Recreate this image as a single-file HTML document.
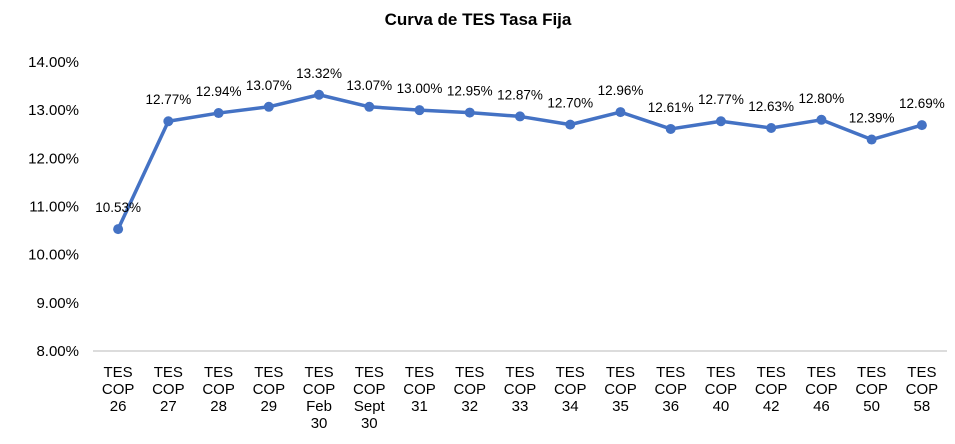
<!DOCTYPE html>
<html><head><meta charset="utf-8"><style>
body{margin:0;background:#fff;font-family:"Liberation Sans",sans-serif}
</style></head><body>
<svg id="c" width="955" height="439" xmlns="http://www.w3.org/2000/svg">
<text x="478" y="25" text-anchor="middle" font-size="17" font-weight="bold" fill="#000">Curva de TES Tasa Fija</text>
<g id="ax"></g><g id="ser"></g>
</svg>
<script>
const categories=[["TES","COP","26"],["TES","COP","27"],["TES","COP","28"],["TES","COP","29"],["TES","COP","Feb","30"],["TES","COP","Sept","30"],["TES","COP","31"],["TES","COP","32"],["TES","COP","33"],["TES","COP","34"],["TES","COP","35"],["TES","COP","36"],["TES","COP","40"],["TES","COP","42"],["TES","COP","46"],["TES","COP","50"],["TES","COP","58"]];
const values=[10.53,12.77,12.94,13.07,13.32,13.07,13.00,12.95,12.87,12.70,12.96,12.61,12.77,12.63,12.80,12.39,12.69];
const yTicks=[8,9,10,11,12,13,14];
const NS="http://www.w3.org/2000/svg";
const L=93,R=947,T=62,B=351,ymin=8,ymax=14;
const step=(R-L)/categories.length;
const x=i=>L+step*(i+0.5);
const y=v=>B-(v-ymin)/(ymax-ymin)*(B-T);
function mk(t,a,p){const e=document.createElementNS(NS,t);for(const k in a)e.setAttribute(k,a[k]);p.appendChild(e);return e;}
const ax=document.getElementById('ax'),ser=document.getElementById('ser');
yTicks.forEach(v=>{const t=mk('text',{x:79,y:y(v)+5,'text-anchor':'end','font-size':15,fill:'#000'},ax);t.textContent=v.toFixed(2)+'%';

});
const al=mk('line',{x1:L,x2:R,y1:B,y2:B,stroke:'#d0d0d0','stroke-width':1.5},ax);


categories.forEach((c,i)=>{c.forEach((s,j)=>{const t=mk('text',{x:x(i),y:377+j*17,'text-anchor':'middle','font-size':15,fill:'#000'},ax);t.textContent=s;

});});
const ln=mk('polyline',{points:values.map((v,i)=>x(i)+','+y(v)).join(' '),fill:'none',stroke:'#4472c4','stroke-width':3.5,'stroke-linejoin':'round'},ser);


values.forEach((v,i)=>{const p=mk('circle',{cx:x(i),cy:y(v),r:5,fill:'#4472c4'},ser);


const t=mk('text',{x:x(i),y:y(v)-17,'text-anchor':'middle','font-size':13.5,fill:'#000'},ser);t.textContent=v.toFixed(2)+'%';

});
</script>
</body></html>
